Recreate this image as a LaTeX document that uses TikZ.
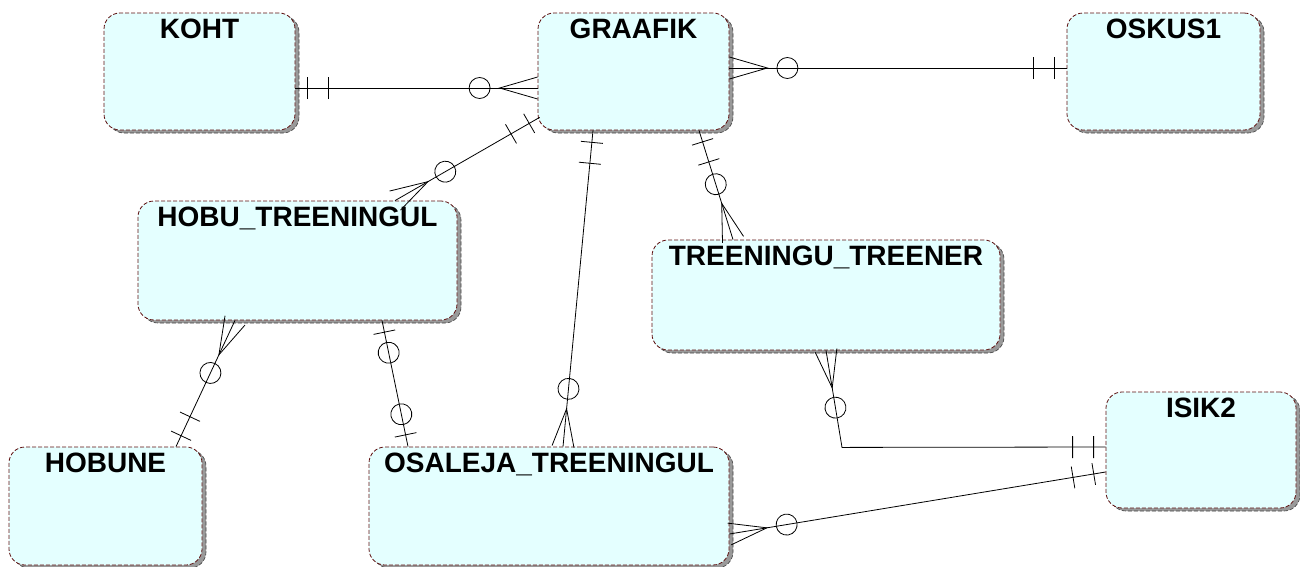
\documentclass[tikz,border=0pt]{standalone}
\usepackage{fontspec}
\setmainfont{Liberation Sans}
\usetikzlibrary{shadows,decorations.markings}
\definecolor{entityfill}{HTML}{E4FFFF}
\definecolor{entityline}{HTML}{5E1010}

\tikzset{
  entity/.style={draw=entityline, line width=0.8pt, dash pattern=on 4pt off 2pt,
    fill=entityfill, rounded corners=16pt, inner sep=0pt,
    drop shadow={shadow xshift=4pt, shadow yshift=-3pt, fill=black!40, draw=black!75, line width=0.6pt, opacity=1}},
  title/.style={anchor=base, yshift=-26pt, inner sep=0pt, font=\bfseries\fontsize{28}{30}\selectfont},
  % ER ends: two bars, circle + crow's foot, bar + circle
  one start/.style={postaction={decorate, decoration={markings,
      mark=at position 12pt with {\draw (0,-11pt) -- (0,11pt);},
      mark=at position 33pt with {\draw (0,-11pt) -- (0,11pt);}}}},
  one end/.style={postaction={decorate, decoration={markings,
      mark=at position -12pt with {\draw (0,-11pt) -- (0,11pt);},
      mark=at position -33pt with {\draw (0,-11pt) -- (0,11pt);}}}},
  many start/.style={postaction={decorate, decoration={markings,
      mark=at position 38pt with {\draw (-38pt,11pt) -- (0,0) -- (-38pt,-11pt);
        \draw (20pt,0) circle (10.5pt);}}}},
  many end/.style={postaction={decorate, decoration={markings,
      mark=at position -38pt with {\draw (38pt,11pt) -- (0,0) -- (38pt,-11pt);
        \draw (-20pt,0) circle (10.5pt);}}}},
  opt start/.style={postaction={decorate, decoration={markings,
      mark=at position 12pt with {\draw (0,-11pt) -- (0,11pt);},
      mark=at position 33pt with {\draw (0,0) circle (10.5pt);}}}},
  opt end/.style={postaction={decorate, decoration={markings,
      mark=at position -12pt with {\draw (0,-11pt) -- (0,11pt);},
      mark=at position -33pt with {\draw (0,0) circle (10.5pt);}}}}
}

\begin{document}
\begin{tikzpicture}[x=1pt, y=-1pt, line width=0.8pt, node distance=100pt]
  \useasboundingbox (0,0) rectangle (1300,566);
  \node [entity, minimum width=191pt, minimum height=117pt, label={[title]north:KOHT}] (koht) at (199.5,71.5) {};
  \node [entity, right of=koht, xshift=334pt, minimum width=191pt, minimum height=117pt, label={[title]north:GRAAFIK}] (graafik) {};
  \node [entity, right of=graafik, xshift=430pt, minimum width=193pt, minimum height=117pt, label={[title]north:OSKUS1}] (oskus) {};
  \node [entity, below of=koht, xshift=98pt, yshift=-89pt, minimum width=319pt, minimum height=119pt, label={[title]north:HOBU\_TREENINGUL}] (hobutr) {};
  \node [entity, below of=graafik, xshift=192.5pt, yshift=-123.5pt, minimum width=348pt, minimum height=110pt, label={[title]north:TREENINGU\_TREENER}] (treener) {};
  \node [entity, below of=hobutr, xshift=-192pt, yshift=-145.5pt, minimum width=193pt, minimum height=118pt, label={[title]north:HOBUNE}] (hobune) {};
  \node [entity, right of=hobune, xshift=343.5pt, minimum width=360pt, minimum height=118pt, label={[title]north:OSALEJA\_TREENINGUL}] (osaleja) {};
  \node [entity, right of=osaleja, xshift=552pt, yshift=56pt, minimum width=190pt, minimum height=116pt, label={[title]north:ISIK2}] (isik) {};

  \draw [one start, many end] ([yshift=-16.5pt]koht.east) -- ([yshift=-16.5pt]graafik.west);
  \draw [many start, one end] ([yshift=3.5pt]graafik.east) -- ([yshift=3.5pt]oskus.west);
  \draw [one start, many end] ([xshift=2pt, yshift=13pt]graafik.south west) -- ([xshift=97.5pt]hobutr.north);
  \draw [one start, many end] ([xshift=-40.5pt]graafik.south) -- ([xshift=14pt]osaleja.north);
  \draw [one start, many end] ([xshift=65.5pt]graafik.south) -- ([xshift=-93pt]treener.north);
  \draw [many start, one end] ([xshift=-62.5pt]hobutr.south) -- ([xshift=70.5pt]hobune.north);
  \draw [opt start, opt end] ([xshift=84.5pt]hobutr.south) -- ([xshift=-141pt]osaleja.north);
  \draw [many start, one end] (treener.south) -- ++(16,97) -- ([yshift=3pt]isik.west);
  \draw [many start, one end] ([yshift=-28pt]osaleja.east) -- ([yshift=-22pt]isik.west);
\end{tikzpicture}
\end{document}
